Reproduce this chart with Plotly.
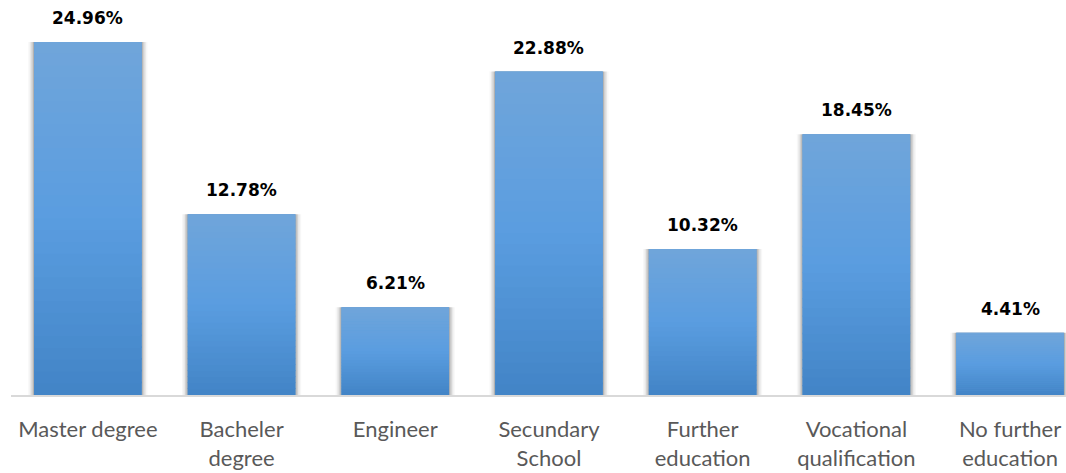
import plotly.graph_objects as go

categories = ["Master degree", "Bacheler<br>degree", "Engineer", "Secundary<br>School",
              "Further<br>education", "Vocational<br>qualification", "No further<br>education"]
shares = [24.96, 12.78, 6.21, 22.88, 10.32, 18.45, 4.41]
value_labels = ["24.96%", "12.78%", "6.21%", "22.88%", "10.32%", "18.45%", "4.41%"]

x = list(range(len(categories)))
fig = go.Figure()

# soft grey shadow around each bar
for w, a in [(0.775, 0.05), (0.755, 0.09), (0.735, 0.16), (0.715, 0.26)]:
    fig.add_trace(go.Bar(x=x, y=shares, width=w, marker=dict(color=f"rgba(90,90,90,{a})", line=dict(width=0)),
                         hoverinfo="skip", showlegend=False))

# main bars
fig.add_trace(go.Bar(x=x, y=shares, width=0.70,
                     marker=dict(color="#5A9BDA", line=dict(width=0)), showlegend=False))

# vertical shading: each bar is split into bands that run from a darker base to a lighter top
stops = [(0.0, (66, 132, 198)), (0.5, (90, 157, 224)), (1.0, (112, 165, 218))]


def shade(f):
    for (f0, c0), (f1, c1) in zip(stops[:-1], stops[1:]):
        if f <= f1:
            t = (f - f0) / (f1 - f0)
            return "rgb(%d,%d,%d)" % tuple(round(a + (b - a) * t) for a, b in zip(c0, c1))
    return "rgb(%d,%d,%d)" % stops[-1][1]


n_bands = 30
for k in range(n_bands):
    frac_lo = k / n_bands
    frac_mid = (k + 0.5) / n_bands
    fig.add_trace(go.Bar(x=x, y=[s / n_bands * 1.15 if k < n_bands - 1 else s / n_bands for s in shares],
                         base=[s * frac_lo for s in shares], width=0.70,
                         marker=dict(color=shade(frac_mid), line=dict(width=0)),
                         hoverinfo="skip", showlegend=False))

for xi, v, t in zip(x, shares, value_labels):
    fig.add_annotation(x=xi, y=v, text=t, showarrow=False, yanchor="bottom", yshift=12,
                       font=dict(family="DejaVu Sans", size=17, color="#000000", weight="bold"))

fig.update_layout(
    width=1066, height=473, barmode="overlay",
    margin=dict(l=11, r=0, t=10, b=78),
    paper_bgcolor="white", plot_bgcolor="white",
    xaxis=dict(tickmode="array", tickvals=x, ticktext=categories, range=[-0.5, 6.364],
               showgrid=False, zeroline=False, showline=True, linecolor="#D9D9D9", linewidth=2,
               ticks="", ticklabelstandoff=14, tickfont=dict(family="Lato", size=22, color="#595959")),
    yaxis=dict(range=[0, 27.23], visible=False),
)
fig.write_html("out.html")
